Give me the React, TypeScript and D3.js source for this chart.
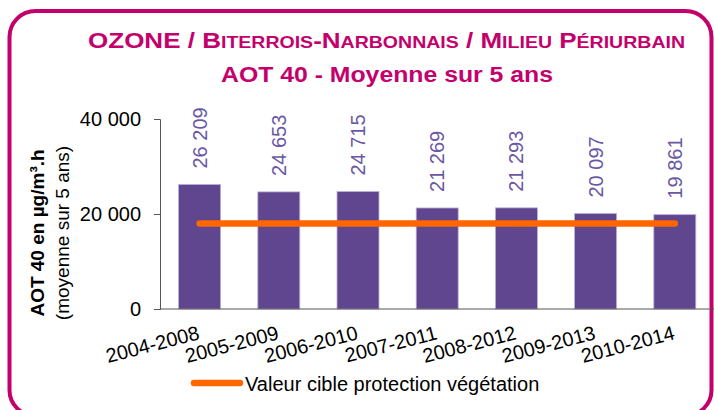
import React, { useEffect, useRef } from "react";
import * as d3 from "d3";

const periods = [
  "2004-2008",
  "2005-2009",
  "2006-2010",
  "2007-2011",
  "2008-2012",
  "2009-2013",
  "2010-2014",
];
const aot40 = [26209, 24653, 24715, 21269, 21293, 20097, 19861];
const targetValue = 18000;
const yTicks = [0, 20000, 40000];

let width = 714;
let height = 410;
let left = 160;
let right = 714.4;
let top = 119;
let bottom = 309;

const magenta = "#C4006C";
const purple = "#5F468F";
const labelPurple = "#6A58A4";
const orange = "#FF6600";
const font = "'Liberation Sans', Arial, sans-serif";

const fr = d3.formatLocale({
  decimal: ",",
  thousands: " ",
  grouping: [3],
  currency: ["", " €"],
});
const fmt = fr.format(",d");

const App = () => {
  const ref = useRef<SVGSVGElement>(null);

  useEffect(() => {
    document.body.style.margin = "0";
    let svg = d3.select(ref.current);
    svg.selectAll("*").remove();

    let xScale = d3
      .scaleBand()
      .domain(periods)
      .range([left, right])
      .paddingInner(0.47)
      .paddingOuter(0.235);

    let yScale = d3.scaleLinear().domain([0, 40000]).range([bottom, top]);

    // frame
    svg
      .append("rect")
      .attr("x", 9.5)
      .attr("y", 11)
      .attr("width", 702)
      .attr("height", 405)
      .attr("rx", 26)
      .attr("fill", "none")
      .attr("stroke", magenta)
      .attr("stroke-width", 4);

    // title, line 1 in small caps
    let t1 = svg
      .append("text")
      .attr("x", 386.5)
      .attr("y", 47.5)
      .attr("text-anchor", "middle")
      .attr("font-family", font)
      .attr("font-weight", "bold")
      .attr("fill", magenta)
      .attr("textLength", 597)
      .attr("lengthAdjust", "spacingAndGlyphs");
    let parts: [string, boolean][] = [
      ["OZONE / B", true],
      ["ITERROIS", false],
      ["-N", true],
      ["ARBONNAIS", false],
      [" / M", true],
      ["ILIEU", false],
      [" P", true],
      ["ÉRIURBAIN", false],
    ];
    parts.forEach(([s, big]) => {
      t1.append("tspan")
        .attr("font-size", big ? 22 : 16.5)
        .text(s);
    });

    svg
      .append("text")
      .attr("x", 387)
      .attr("y", 82)
      .attr("text-anchor", "middle")
      .attr("font-family", font)
      .attr("font-weight", "bold")
      .attr("font-size", 22)
      .attr("fill", magenta)
      .attr("textLength", 332)
      .attr("lengthAdjust", "spacingAndGlyphs")
      .text("AOT 40 - Moyenne sur 5 ans");

    // bars
    svg
      .selectAll("rect.bar")
      .data(aot40)
      .enter()
      .append("rect")
      .attr("class", "bar")
      .attr("x", (d, i) => xScale(periods[i]))
      .attr("y", (d) => yScale(d))
      .attr("width", xScale.bandwidth())
      .attr("height", (d) => bottom - yScale(d))
      .attr("fill", purple)
      .attr("stroke", "#B9AED6")
      .attr("stroke-width", 0.8);

    // axes
    let yAxis = d3
      .axisLeft(yScale)
      .tickValues(yTicks)
      .tickSize(6)
      .tickFormat((d) => fmt(d as number));
    let gy = svg
      .append("g")
      .attr("transform", "translate(" + left + ",0)")
      .call(yAxis);
    gy.select(".domain").attr("stroke", "#555").attr("stroke-width", 1);
    gy.selectAll(".tick line").attr("stroke", "#555");
    gy.selectAll(".tick text")
      .attr("font-family", font)
      .attr("font-size", 20)
      .attr("fill", "#000")
      .attr("x", -19);

    svg
      .append("line")
      .attr("x1", left)
      .attr("x2", width)
      .attr("y1", bottom)
      .attr("y2", bottom)
      .attr("stroke", "#555")
      .attr("stroke-width", 1);

    // x labels
    svg
      .selectAll("text.xl")
      .data(periods)
      .enter()
      .append("text")
      .attr("class", "xl")
      .attr("transform", (d) => {
        let cx = (xScale(d) as number) + xScale.bandwidth() / 2;
        return "translate(" + (cx + 1) + "," + 339 + ") rotate(-14.5)";
      })
      .attr("text-anchor", "end")
      .attr("font-family", font)
      .attr("font-size", 20)
      .attr("fill", "#000")
      .text((d) => d);

    // data labels
    svg
      .selectAll("text.vl")
      .data(aot40)
      .enter()
      .append("text")
      .attr("class", "vl")
      .attr("transform", (d, i) => {
        let cx = (xScale(periods[i]) as number) + xScale.bandwidth() / 2;
        return "translate(" + cx + "," + (yScale(d) - 16) + ") rotate(-90)";
      })
      .attr("dy", "0.35em")
      .attr("font-family", font)
      .attr("font-size", 20)
      .attr("fill", labelPurple)
      .text((d) => fmt(d));

    // target line
    let lineGen = d3
      .line<string>()
      .x((d) => (xScale(d) as number) + xScale.bandwidth() / 2)
      .y(() => yScale(targetValue));
    svg
      .append("path")
      .attr("d", lineGen(periods))
      .attr("fill", "none")
      .attr("stroke", orange)
      .attr("stroke-width", 6.5)
      .attr("stroke-linecap", "round");

    // y title
    let yt = svg
      .append("text")
      .attr("transform", "translate(44,233) rotate(-90)")
      .attr("text-anchor", "middle")
      .attr("font-family", font)
      .attr("font-size", 19)
      .attr("fill", "#000");
    yt.append("tspan")
      .attr("x", 0)
      .attr("font-weight", "bold")
      .text("AOT 40 en µg/m³.h");
    yt.append("tspan").attr("x", 0).attr("dy", 25).text("(moyenne sur 5 ans)");

    // legend
    svg
      .append("line")
      .attr("x1", 194)
      .attr("x2", 240)
      .attr("y1", 383)
      .attr("y2", 383)
      .attr("stroke", orange)
      .attr("stroke-width", 6.5)
      .attr("stroke-linecap", "round");
    svg
      .append("text")
      .attr("x", 245)
      .attr("y", 390.5)
      .attr("font-family", font)
      .attr("font-size", 20)
      .attr("fill", "#000")
      .text("Valeur cible protection végétation");
  }, []);

  return (
    <div style={{ position: "absolute", left: 0, top: 0 }}>
      <svg
        ref={ref}
        width={width}
        height={height}
        style={{ display: "block", background: "#fff" }}
      ></svg>
    </div>
  );
};

export default App;
